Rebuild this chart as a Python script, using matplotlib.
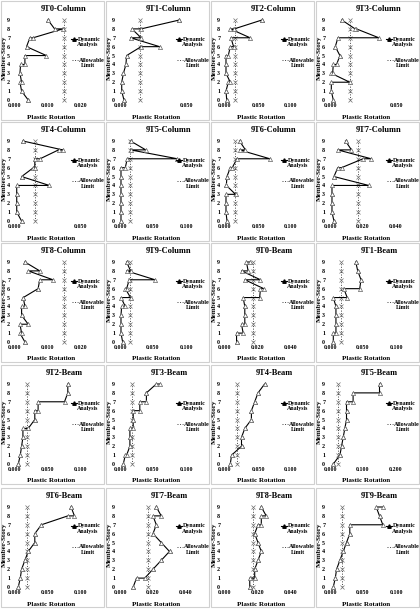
import matplotlib
matplotlib.use('agg')
import matplotlib.pyplot as plt
from matplotlib.lines import Line2D
from matplotlib.patches import Rectangle

plt.rcParams['font.family'] = ['Liberation Serif', 'DejaVu Serif']
plt.rcParams['font.weight'] = 'bold'

# member-story level of each point (two points per level)
levels = [0, 0, 1, 1, 2, 2, 3, 3, 4, 4, 5, 5, 6, 6, 7, 7, 8, 8, 9, 9]
story_ticks = [0, 1, 2, 3, 4, 5, 6, 7, 8, 9]

titles = ['9T0-Column', '9T1-Column', '9T2-Column', '9T3-Column',
          '9T4-Column', '9T5-Column', '9T6-Column', '9T7-Column',
          '9T8-Column', '9T9-Column', '9T0-Beam', '9T1-Beam',
          '9T2-Beam', '9T3-Beam', '9T4-Beam', '9T5-Beam',
          '9T6-Beam', '9T7-Beam', '9T8-Beam', '9T9-Beam']

x_ticks = [[0, 0.01, 0.02], [0, 0.05], [0, 0.05, 0.1], [0, 0.05],
           [0, 0.05], [0, 0.05, 0.1], [0, 0.05, 0.1], [0, 0.02, 0.04],
           [0, 0.01, 0.02], [0, 0.05, 0.1], [0, 0.02, 0.04], [0, 0.05, 0.1],
           [0, 0.05, 0.1], [0, 0.05, 0.1], [0, 0.05, 0.1], [0, 0.1, 0.2],
           [0, 0.05, 0.1], [0, 0.02, 0.04], [0, 0.02, 0.04], [0, 0.05, 0.1]]

limits = [0.015, 0.015, 0.015, 0.015, 0.015, 0.015, 0.015, 0.017, 0.015, 0.015,
          0.017, 0.016, 0.018, 0.018, 0.018, 0.025, 0.018, 0.017, 0.017, 0.018]

# plastic rotations
t0_col = [0.004, 0.004, 0.002, 0.002, 0.0015, 0.002, 0.0015, 0.0015, 0.0017, 0.003,
          0.003, 0.0095, 0.0035, 0.0035, 0.0045, 0.0055, 0.0145, 0.012, 0.010, 0.010]
t1_col = [0.003, 0.003, 0.0013, 0.0013, 0.0013, 0.0013, 0.0026, 0.0026, 0.0045, 0.0045,
          0.005, 0.005, 0.016, 0.030, 0.008, 0.016, 0.009, 0.016, 0.045, 0.045]
t2_col = [0.0026, 0.0026, 0.0015, 0.0015, 0.005, 0.008, 0.0015, 0.0015, 0.0015, 0.0015,
          0.0015, 0.005, 0.008, 0.013, 0.009, 0.038, 0.008, 0.014, 0.056, 0.056]
t3_col = [0.0025, 0.0025, 0.001, 0.001, 0.001, 0.015, 0.001, 0.002, 0.0025, 0.005,
          0.0075, 0.0075, 0.004, 0.004, 0.006, 0.037, 0.020, 0.019, 0.009, 0.009]
t4_col = [0.005, 0.005, 0.0013, 0.0013, 0.0013, 0.0013, 0.0013, 0.0013, 0.0013, 0.026,
          0.005, 0.005, 0.014, 0.015, 0.015, 0.019, 0.033, 0.036, 0.006, 0.006]
t5_col = [0.0015, 0.0015, 0.0015, 0.0015, 0.0015, 0.0015, 0.0015, 0.0015, 0.0015, 0.0015,
          0.0015, 0.0015, 0.0015, 0.008, 0.011, 0.087, 0.016, 0.039, 0.016, 0.016]
t6_col = [0.003, 0.003, 0.0015, 0.0015, 0.0015, 0.0015, 0.0015, 0.016, 0.002, 0.002,
          0.003, 0.003, 0.008, 0.011, 0.018, 0.068, 0.022, 0.031, 0.022, 0.022]
t7_col = [0.0024, 0.0024, 0.0012, 0.0012, 0.0012, 0.0012, 0.0012, 0.0012, 0.0012, 0.0235,
          0.0024, 0.0024, 0.0047, 0.007, 0.020, 0.025, 0.0047, 0.013, 0.0094, 0.0094]
t8_col = [0.003, 0.003, 0.0015, 0.002, 0.0015, 0.004, 0.002, 0.002, 0.002, 0.003,
          0.0025, 0.0025, 0.007, 0.007, 0.0075, 0.0115, 0.004, 0.0075, 0.003, 0.003]
t9_col = [0.004, 0.004, 0.0015, 0.0015, 0.0015, 0.0015, 0.0015, 0.0015, 0.0025, 0.008,
          0.0015, 0.016, 0.008, 0.010, 0.014, 0.053, 0.010, 0.016, 0.010, 0.010]
t0_beam = [0.007, 0.007, 0.007, 0.011, 0.010, 0.012, 0.012, 0.012, 0.012, 0.012,
           0.011, 0.021, 0.0215, 0.0235, 0.012, 0.0215, 0.010, 0.014, 0.013, 0.015]
t1_beam = [0.005, 0.005, 0.005, 0.009, 0.009, 0.009, 0.009, 0.009, 0.009, 0.009,
           0.005, 0.026, 0.021, 0.045, 0.047, 0.047, 0.042, 0.042, 0.039, 0.039]
t2_beam = [0.005, 0.005, 0.008, 0.008, 0.010, 0.010, 0.012, 0.012, 0.012, 0.020,
           0.030, 0.030, 0.030, 0.035, 0.035, 0.075, 0.080, 0.080, 0.080, 0.080]
t3_beam = [0.005, 0.005, 0.008, 0.010, 0.015, 0.015, 0.015, 0.015, 0.015, 0.020,
           0.020, 0.020, 0.020, 0.030, 0.030, 0.040, 0.040, 0.040, 0.055, 0.060]
t4_beam = [0.008, 0.008, 0.010, 0.010, 0.025, 0.025, 0.025, 0.025, 0.030, 0.030,
           0.040, 0.040, 0.040, 0.040, 0.045, 0.045, 0.050, 0.050, 0.060, 0.060]
t5_beam = [0.010, 0.010, 0.030, 0.030, 0.035, 0.035, 0.040, 0.040, 0.045, 0.045,
           0.050, 0.050, 0.050, 0.050, 0.050, 0.070, 0.070, 0.150, 0.150, 0.150]
t6_beam = [0.005, 0.005, 0.008, 0.008, 0.010, 0.010, 0.015, 0.015, 0.020, 0.020,
           0.030, 0.030, 0.030, 0.030, 0.040, 0.040, 0.080, 0.090, 0.085, 0.085]
t7_beam = [0.008, 0.008, 0.010, 0.015, 0.020, 0.020, 0.025, 0.025, 0.030, 0.030,
           0.025, 0.025, 0.020, 0.020, 0.022, 0.022, 0.020, 0.025, 0.022, 0.022]
t8_beam = [0.015, 0.015, 0.015, 0.018, 0.018, 0.018, 0.020, 0.020, 0.022, 0.022,
           0.020, 0.020, 0.018, 0.018, 0.020, 0.022, 0.022, 0.025, 0.022, 0.022]
t9_beam = [0.005, 0.005, 0.008, 0.008, 0.010, 0.010, 0.015, 0.015, 0.020, 0.020,
           0.025, 0.025, 0.030, 0.030, 0.030, 0.080, 0.075, 0.075, 0.070, 0.080]

rotations = [t0_col, t1_col, t2_col, t3_col, t4_col, t5_col, t6_col, t7_col,
             t8_col, t9_col, t0_beam, t1_beam, t2_beam, t3_beam, t4_beam, t5_beam,
             t6_beam, t7_beam, t8_beam, t9_beam]

W, H = 420, 610
row_tops = [0, 121, 242, 364, 487]
col_lefts = [0, 105, 210, 315]

fig = plt.figure(figsize=(W / 100, H / 100), dpi=100)


def fx(px):
    return px / W


def fy(py):
    return 1 - py / H


for i, title in enumerate(titles):
    x0 = col_lefts[i % 4]
    y0 = row_tops[i // 4]
    # panel frame
    fig.patches.append(Rectangle((fx(x0 + 1), fy(y0 + 120)), 103 / W, 119 / H,
                                 transform=fig.transFigure, fill=False,
                                 ec='#d0d0d0', lw=0.8))
    ax = fig.add_axes([fx(x0 + 15), fy(y0 + 100), 66 / W, 80 / H])
    ax.plot(rotations[i], levels, color='black', lw=0.8, marker='^', ms=3,
            mfc='white', mec='#606060', mew=0.5, clip_on=False, zorder=3)
    ax.plot([limits[i]] * len(story_ticks), story_ticks, color='#404040', lw=0.7,
            ls=':', marker='x', ms=2.5, mew=0.5, mec='#707070', clip_on=False)
    ax.set_ylim(0, 9)
    ax.set_xlim(x_ticks[i][0], x_ticks[i][-1])
    ax.set_xticks(x_ticks[i])
    ax.set_xticklabels([f'{t:.3f}' for t in x_ticks[i]])
    ax.set_yticks(story_ticks)
    ax.tick_params(length=0, labelsize=4.3)
    ax.tick_params(axis='x', pad=2.5)
    ax.tick_params(axis='y', pad=3.5)
    for s in ax.spines.values():
        s.set_visible(False)
    ax.patch.set_alpha(0)

    fig.text(fx(x0 + 64), fy(y0 + 9), title, ha='center', va='center', fontsize=6)
    fig.text(fx(x0 + 4), fy(y0 + 58), 'Member-Story', ha='center', va='center',
             rotation=90, fontsize=5)
    fig.text(fx(x0 + 51), fy(y0 + 117), 'Plastic Rotation', ha='center', va='center',
             fontsize=5)

    # legend drawn by hand, like the spreadsheet one
    fig.add_artist(Line2D([fx(x0 + 71), fx(x0 + 77)], [fy(y0 + 39)] * 2,
                          color='black', lw=0.8))
    fig.add_artist(Line2D([fx(x0 + 74)], [fy(y0 + 39)], marker='^', ms=2.5,
                          mfc='black', mec='black', color='black'))
    fig.text(fx(x0 + 78), fy(y0 + 39), 'Dynamic', ha='left', va='center', fontsize=4.3)
    fig.text(fx(x0 + 88), fy(y0 + 44.5), 'Analysis', ha='center', va='center',
             fontsize=4.3)
    fig.add_artist(Line2D([fx(x0 + 72), fx(x0 + 78)], [fy(y0 + 60)] * 2,
                          color='#404040', lw=0.7, ls=':'))
    fig.text(fx(x0 + 79), fy(y0 + 60), 'Allowable', ha='left', va='center', fontsize=4.3)
    fig.text(fx(x0 + 88), fy(y0 + 65.5), 'Limit', ha='center', va='center',
             fontsize=4.3)

fig.savefig('out.png', dpi=100)
